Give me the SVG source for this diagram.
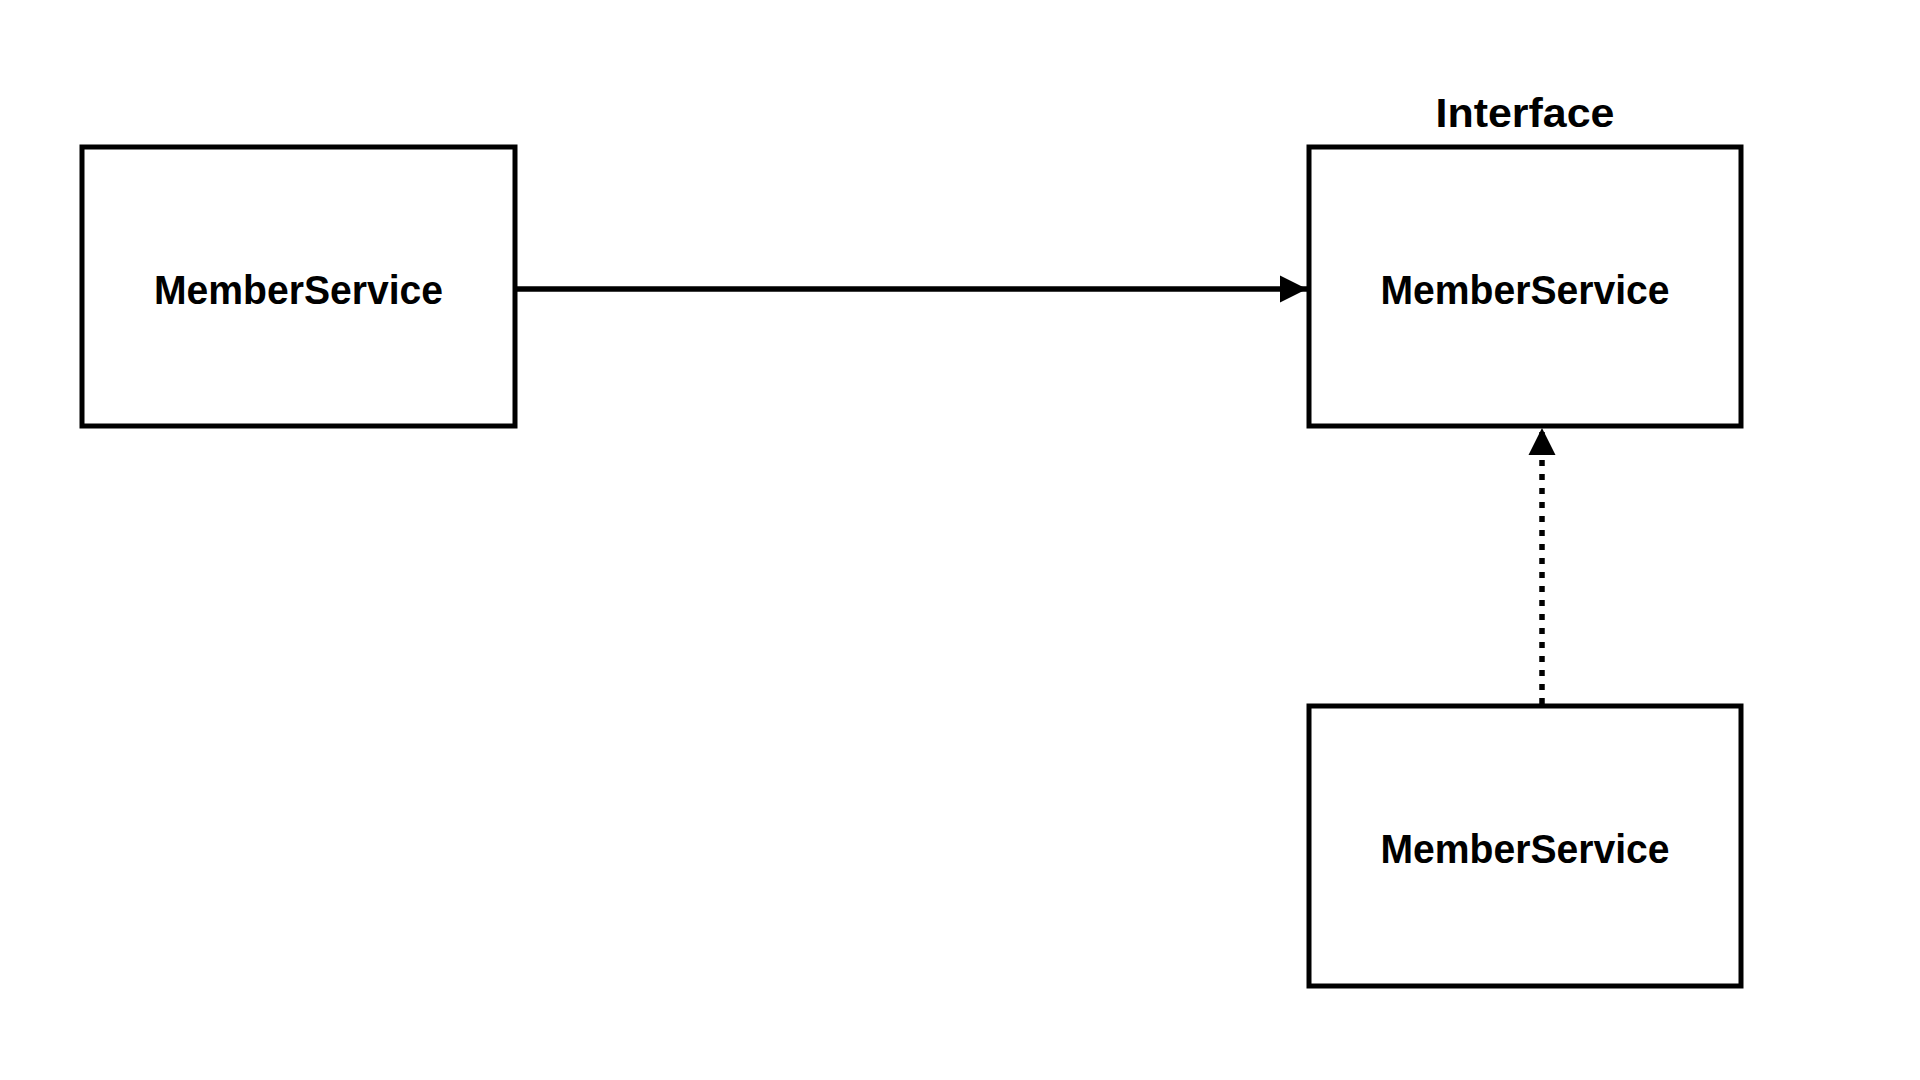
<svg xmlns="http://www.w3.org/2000/svg" width="1920" height="1080" viewBox="0 0 1920 1080">
<style>
.box{fill:#fff;stroke:#000;stroke-width:5}
.lbl{font-family:"Liberation Sans",Arial,sans-serif;font-weight:bold;font-size:40px;fill:#000;text-anchor:middle}
.conn{fill:none;stroke:#000;stroke-width:5.5}
.dash{stroke-dasharray:6 8}
</style>
<defs>
<marker id="arr" viewBox="0 0 10 10" refX="10" refY="5" markerWidth="27" markerHeight="28" markerUnits="userSpaceOnUse" orient="auto">
<path d="M0,0 L10,5 L0,10 Z" fill="#000"/>
</marker>
</defs>
<rect width="1920" height="1080" fill="#fff"/>
<g id="client">
<rect class="box" x="82" y="147" width="433" height="279"/>
<text class="lbl" x="298.5" y="304" textLength="289" lengthAdjust="spacingAndGlyphs">MemberService</text>
</g>
<g id="interface">
<text class="lbl" x="1525" y="127" textLength="179" lengthAdjust="spacingAndGlyphs">Interface</text>
<rect class="box" x="1309" y="147" width="432" height="279"/>
<text class="lbl" x="1525" y="304" textLength="289" lengthAdjust="spacingAndGlyphs">MemberService</text>
</g>
<g id="impl">
<rect class="box" x="1309" y="706" width="432" height="280"/>
<text class="lbl" x="1525" y="863" textLength="289" lengthAdjust="spacingAndGlyphs">MemberService</text>
</g>
<g id="connectors">
<line class="conn" x1="517" y1="289" x2="1307" y2="289" marker-end="url(#arr)"/>
<line class="conn dash" x1="1542" y1="704" x2="1542" y2="428" marker-end="url(#arr)"/>
</g>
</svg>
